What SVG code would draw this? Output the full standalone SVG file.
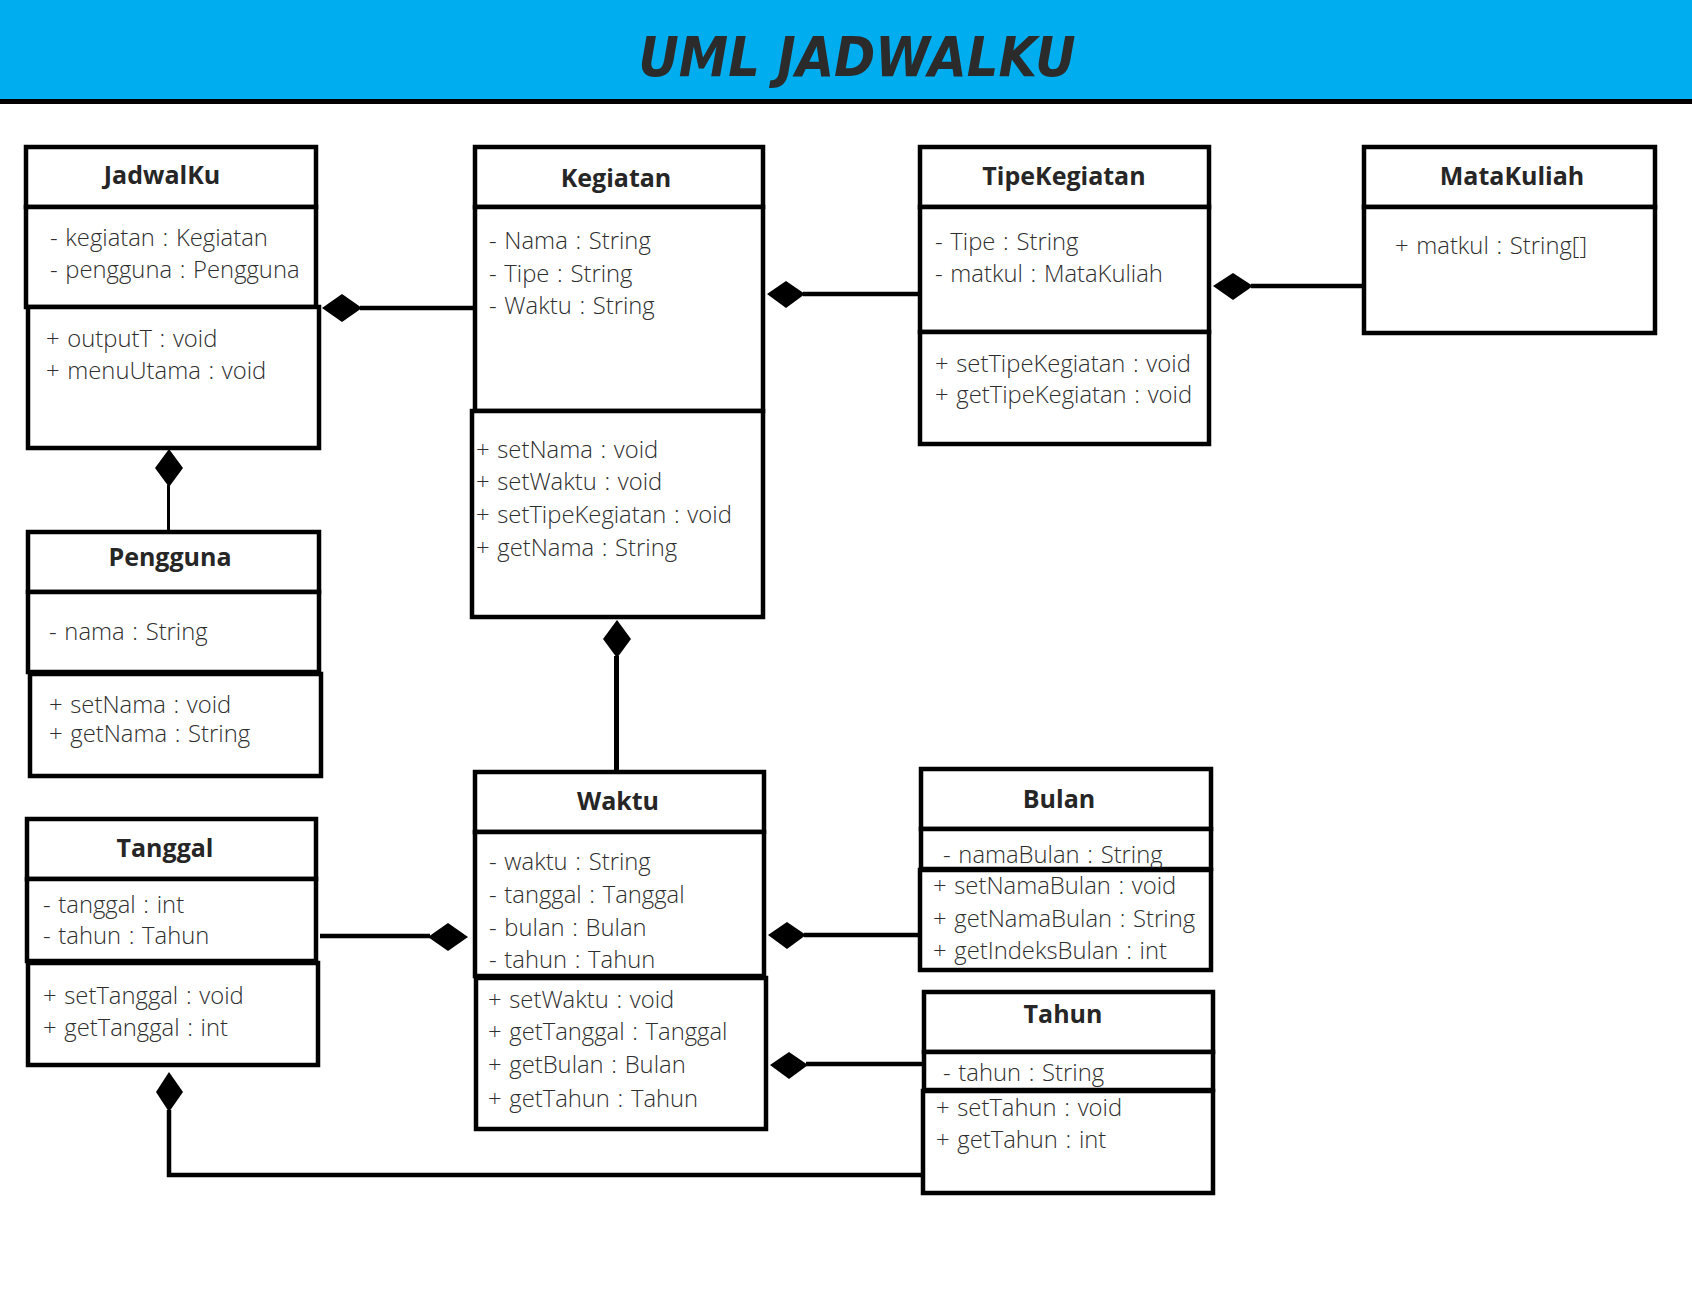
<svg xmlns="http://www.w3.org/2000/svg" width="1692" height="1296" viewBox="0 0 1692 1296">
<style>
.box{fill:#ffffff;stroke:#000000;stroke-width:4.5}
.ttl{font-family:"Open Sans","Noto Sans",sans-serif;font-weight:700;font-size:25px;fill:#262626;text-anchor:middle}
.txt{font-family:"Open Sans","Noto Sans",sans-serif;font-weight:350;font-size:23.8px;word-spacing:1.5px;fill:#2e2e2e}
.ln{fill:none;stroke:#000000;stroke-width:4.5}
.dm{fill:#000000;stroke:none}
</style>
<rect x="0" y="0" width="1692" height="1296" fill="#ffffff"/>
<g id="header">
<rect x="0" y="0" width="1692" height="100" fill="#00adee"/>
<rect x="0" y="99" width="1692" height="5" fill="#000000"/>
<text x="857" y="76" font-family="DejaVu Sans" font-weight="700" font-style="italic" font-size="55" fill="#2b2b2b" text-anchor="middle" textLength="437" lengthAdjust="spacingAndGlyphs">UML JADWALKU</text>
</g>
<g id="connectors">
<line class="ln" x1="360" y1="308" x2="474" y2="308"/>
<polygon class="dm" points="322,308 342,294 362,308 342,322"/>
<line class="ln" x1="803" y1="294" x2="918" y2="294"/>
<polygon class="dm" points="767,294 786,281 805,294 786,308"/>
<line class="ln" x1="1251" y1="286" x2="1363" y2="286"/>
<polygon class="dm" points="1213,286 1233,273 1253,286 1233,300"/>
<line class="ln" style="stroke-width:3" x1="168.5" y1="485" x2="168.5" y2="531"/>
<polygon class="dm" points="169,449 183,468 169,487 155,468"/>
<line class="ln" style="stroke-width:5" x1="616.5" y1="656" x2="616.5" y2="771"/>
<polygon class="dm" points="617,620 631,639 617,658 603,639"/>
<line class="ln" x1="320" y1="936" x2="430" y2="936"/>
<polygon class="dm" points="428,937 448,923 468,937 448,951"/>
<line class="ln" x1="804" y1="935" x2="920" y2="935"/>
<polygon class="dm" points="768,935 787,922 806,935 787,949"/>
<line class="ln" x1="806" y1="1064" x2="922" y2="1064"/>
<polygon class="dm" points="770,1065 789,1052 808,1065 789,1079"/>
<polyline class="ln" points="922,1175 169,1175 169,1110"/>
<polygon class="dm" points="169,1072 183,1092 169,1112 156,1092"/>
</g>
<g id="JadwalKu">
<rect class="box" x="26" y="147" width="290" height="60"/>
<rect class="box" x="26" y="207" width="290" height="100"/>
<rect class="box" x="28" y="307" width="291" height="141"/>
<text class="ttl" x="162" y="184">JadwalKu</text>
<text class="txt" x="50" y="246">- kegiatan : Kegiatan</text>
<text class="txt" x="50" y="278">- pengguna : Pengguna</text>
<text class="txt" x="46" y="347">+ outputT : void</text>
<text class="txt" x="46" y="379">+ menuUtama : void</text>
</g>
<g id="Kegiatan">
<rect class="box" x="475" y="147" width="288" height="60"/>
<rect class="box" x="475" y="207" width="288" height="204"/>
<rect class="box" x="472" y="411" width="291" height="206"/>
<text class="ttl" x="616" y="187">Kegiatan</text>
<text class="txt" x="489" y="249">- Nama : String</text>
<text class="txt" x="489" y="282">- Tipe : String</text>
<text class="txt" x="489" y="314">- Waktu : String</text>
<text class="txt" x="476" y="458">+ setNama : void</text>
<text class="txt" x="476" y="490">+ setWaktu : void</text>
<text class="txt" x="476" y="523">+ setTipeKegiatan : void</text>
<text class="txt" x="476" y="556">+ getNama : String</text>
</g>
<g id="TipeKegiatan">
<rect class="box" x="920" y="147" width="289" height="60"/>
<rect class="box" x="920" y="207" width="289" height="125"/>
<rect class="box" x="920" y="332" width="289" height="112"/>
<text class="ttl" x="1064" y="185">TipeKegiatan</text>
<text class="txt" x="935" y="250">- Tipe : String</text>
<text class="txt" x="935" y="282">- matkul : MataKuliah</text>
<text class="txt" x="935" y="372">+ setTipeKegiatan : void</text>
<text class="txt" x="935" y="403">+ getTipeKegiatan : void</text>
</g>
<g id="MataKuliah">
<rect class="box" x="1364" y="147" width="291" height="60"/>
<rect class="box" x="1364" y="207" width="291" height="126"/>
<text class="ttl" x="1512" y="185">MataKuliah</text>
<text class="txt" x="1395" y="254">+ matkul : String[]</text>
</g>
<g id="Pengguna">
<rect class="box" x="28" y="532" width="291" height="60"/>
<rect class="box" x="28" y="592" width="291" height="80"/>
<rect class="box" x="30" y="674" width="291" height="102"/>
<text class="ttl" x="170" y="566">Pengguna</text>
<text class="txt" x="49" y="640">- nama : String</text>
<text class="txt" x="49" y="713">+ setNama : void</text>
<text class="txt" x="49" y="742">+ getNama : String</text>
</g>
<g id="Tanggal">
<rect class="box" x="27" y="819" width="289" height="60"/>
<rect class="box" x="27" y="879" width="289" height="82"/>
<rect class="box" x="28" y="963" width="290" height="102"/>
<text class="ttl" x="165" y="857">Tanggal</text>
<text class="txt" x="43" y="913">- tanggal : int</text>
<text class="txt" x="43" y="944">- tahun : Tahun</text>
<text class="txt" x="43" y="1004">+ setTanggal : void</text>
<text class="txt" x="43" y="1036">+ getTanggal : int</text>
</g>
<g id="Waktu">
<rect class="box" x="475" y="772" width="289" height="60"/>
<rect class="box" x="475" y="832" width="289" height="144"/>
<rect class="box" x="476" y="978" width="290" height="151"/>
<text class="ttl" x="618" y="810">Waktu</text>
<text class="txt" x="489" y="870">- waktu : String</text>
<text class="txt" x="489" y="903">- tanggal : Tanggal</text>
<text class="txt" x="489" y="936">- bulan : Bulan</text>
<text class="txt" x="489" y="968">- tahun : Tahun</text>
<text class="txt" x="488" y="1008">+ setWaktu : void</text>
<text class="txt" x="488" y="1040">+ getTanggal : Tanggal</text>
<text class="txt" x="488" y="1073">+ getBulan : Bulan</text>
<text class="txt" x="488" y="1107">+ getTahun : Tahun</text>
</g>
<g id="Bulan">
<rect class="box" x="921" y="769" width="290" height="60"/>
<rect class="box" x="921" y="829" width="290" height="40"/>
<text class="txt" x="943" y="863">- namaBulan : String</text>
<rect class="box" x="920" y="870" width="291" height="100"/>
<text class="ttl" x="1059" y="808">Bulan</text>
<text class="txt" x="933" y="894">+ setNamaBulan : void</text>
<text class="txt" x="933" y="927">+ getNamaBulan : String</text>
<text class="txt" x="933" y="959">+ getIndeksBulan : int</text>
</g>
<g id="Tahun">
<rect class="box" x="924" y="992" width="289" height="60"/>
<rect class="box" x="924" y="1052" width="289" height="38"/>
<text class="txt" x="943" y="1081">- tahun : String</text>
<rect class="box" x="923" y="1091" width="290" height="102"/>
<text class="ttl" x="1063" y="1023">Tahun</text>
<text class="txt" x="936" y="1116">+ setTahun : void</text>
<text class="txt" x="936" y="1148">+ getTahun : int</text>
</g>
</svg>
